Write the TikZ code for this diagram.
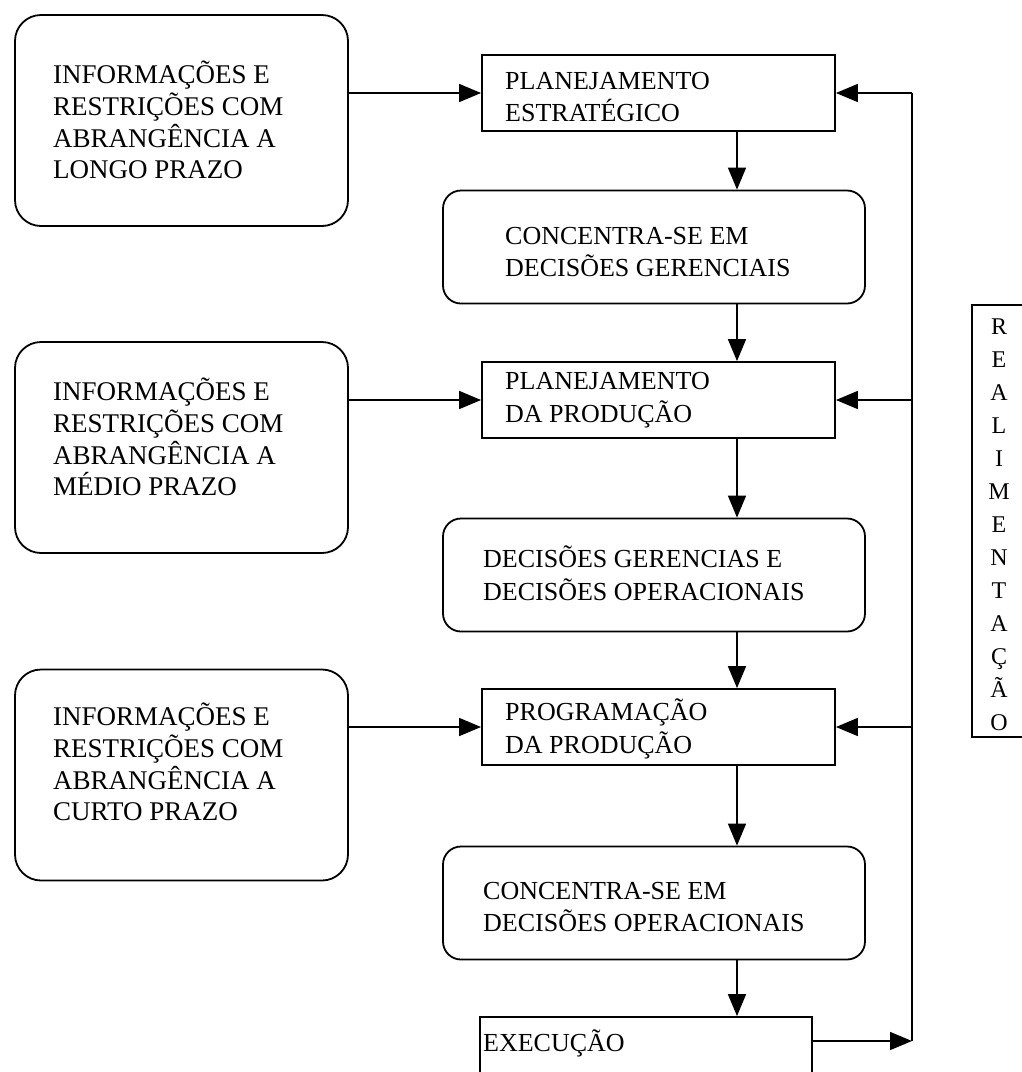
\documentclass[tikz,border=0pt]{standalone}
\usepackage{fontspec}
\setmainfont{Liberation Serif}
\usetikzlibrary{arrows.meta,calc}
\tikzset{
  frame/.style={draw, line width=1.8pt, inner sep=0pt},
  infobox/.style={frame, rounded corners=26pt, minimum width=333pt, minimum height=211pt},
  planbox/.style={frame, minimum width=353pt, minimum height=76pt},
  decbox/.style={frame, rounded corners=18pt, minimum width=422pt, minimum height=113pt},
  lbl/.style={inner sep=0pt, align=left, anchor=west, font=\fontsize{27}{31.7}\selectfont},
  clbl/.style={lbl, font=\fontsize{26}{32.5}\selectfont},
  flow/.style={line width=1.6pt, -{Triangle[length=22pt,width=18pt]}},
  fbline/.style={line width=1.6pt},
}
\begin{document}
\begin{tikzpicture}[x=1pt,y=-1pt]
\useasboundingbox (0,0) rectangle (1022,1072);

% information boxes on the left
\node[infobox] (l1) at (181.5,120.5) {};
\node[infobox] (l2) at (181.5,447.5) {};
\node[infobox] (l3) at (181.5,775) {};
\node[lbl] (tl1) at (53,120) {INFORMAÇÕES E\\RESTRIÇÕES COM\\ABRANGÊNCIA A\\LONGO PRAZO};
\node[lbl] (tl2) at (53,437) {INFORMAÇÕES E\\RESTRIÇÕES COM\\ABRANGÊNCIA A\\MÉDIO PRAZO};
\node[lbl] (tl3) at (53,762) {INFORMAÇÕES E\\RESTRIÇÕES COM\\ABRANGÊNCIA A\\CURTO PRAZO};

% planning levels
\node[planbox] (r1) at (658.5,93) {};
\node[planbox] (r2) at (658.5,400) {};
\node[planbox] (r3) at (658.5,727) {};
\node[clbl] (tr1) at (505,97) {PLANEJAMENTO\\ESTRATÉGICO};
\node[clbl] (tr2) at (505,400) {PLANEJAMENTO\\DA PRODUÇÃO};
\node[clbl] (tr3) at (505,729) {PROGRAMAÇÃO\\DA PRODUÇÃO};

% decision boxes
\node[decbox] (c1) at (654,247) {};
\node[decbox] (c2) at (654,575) {};
\node[decbox] (c3) at (654,903) {};
\node[clbl] (tc1) at (505,252) {CONCENTRA-SE EM\\DECISÕES GERENCIAIS};
\node[clbl] (tc2) at (483,573) {DECISÕES GERENCIAS E\\DECISÕES OPERACIONAIS};
\node[clbl] (tc3) at (483,907) {CONCENTRA-SE EM\\DECISÕES OPERACIONAIS};

% execution
\node[frame, minimum width=332pt, minimum height=80pt] (ex) at (646,1057) {};
\node[clbl] (tex) at (483,1043) {EXECUÇÃO};

% feedback label
\node[frame, minimum width=73pt, minimum height=432pt] (fb) at (1008.5,521) {};
\node[inner sep=0pt, align=center, font=\fontsize{24}{33}\selectfont] (tfb) at (999,525)
  {R\\E\\A\\L\\I\\M\\E\\N\\T\\A\\Ç\\Ã\\O};

% main flow
\coordinate (col) at (737,0);
\draw[flow] (r1.south -| col) -- (c1.north -| col);
\draw[flow] (c1.south -| col) -- (r2.north -| col);
\draw[flow] (r2.south -| col) -- (c2.north -| col);
\draw[flow] (c2.south -| col) -- (r3.north -| col);
\draw[flow] (r3.south -| col) -- (c3.north -| col);
\draw[flow] (c3.south -| col) -- (ex.north -| col);

% inputs
\draw[flow] (l1.east |- r1.west) -- (r1.west);
\draw[flow] (l2.east |- r2.west) -- (r2.west);
\draw[flow] (l3.east |- r3.west) -- (r3.west);

% feedback loop
\coordinate (fbtop) at (912,93);
\coordinate (fbbot) at (912,1041);
\draw[fbline] (fbtop) -- (fbbot);
\draw[flow] (ex.east |- fbbot) -- (fbbot);
\draw[flow] (fbtop) -- (r1.east);
\draw[flow] (fbtop |- r2.east) -- (r2.east);
\draw[flow] (fbtop |- r3.east) -- (r3.east);
\end{tikzpicture}
\end{document}
